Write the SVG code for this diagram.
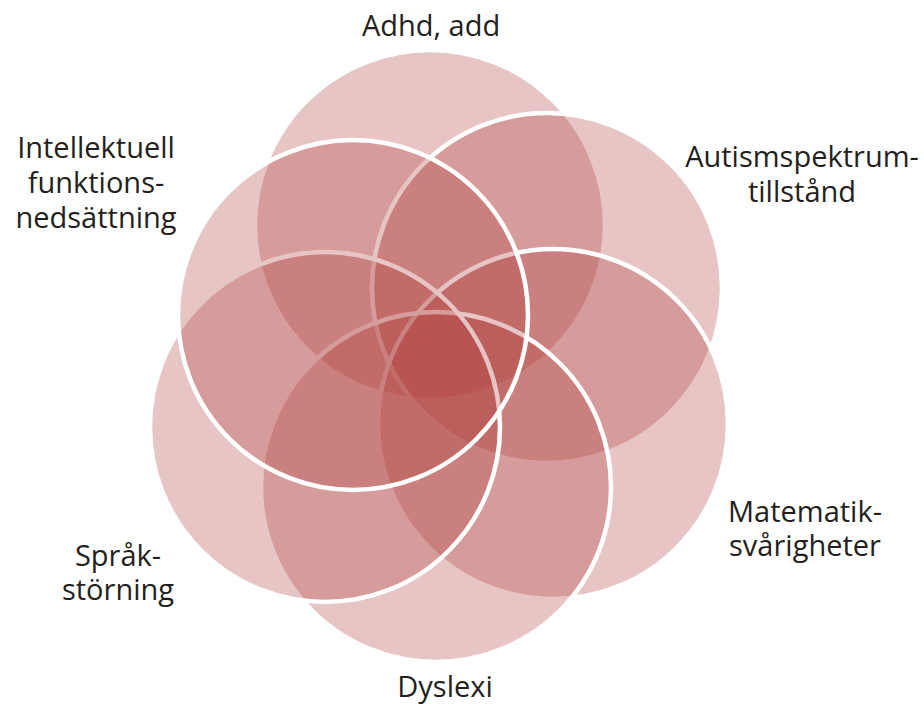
<svg xmlns="http://www.w3.org/2000/svg" width="924" height="704" viewBox="0 0 924 704">
  <style>
    .c { fill: #AE3F3A; fill-opacity: 0.3; stroke: #FFFFFF; stroke-width: 4.5; }
    .t { font-family: "Open Sans", "Liberation Sans", sans-serif; font-size: 29px; fill: #231F20; text-anchor: middle; }
  </style>
  <rect width="924" height="704" fill="#FFFFFF"/>
  <g id="adhd">
    <circle class="c" cx="430" cy="225" r="175"/>
    <text class="t" x="431" y="36">Adhd, add</text>
  </g>
  <g id="autism">
    <circle class="c" cx="547" cy="288" r="175"/>
    <text class="t" x="802" y="167">Autismspektrum-</text>
    <text class="t" x="802" y="202">tillstånd</text>
  </g>
  <g id="matematik">
    <circle class="c" cx="553" cy="424" r="175"/>
    <text class="t" x="805" y="522">Matematik-</text>
    <text class="t" x="805" y="556">svårigheter</text>
  </g>
  <g id="dyslexi">
    <circle class="c" cx="436" cy="487" r="175"/>
    <text class="t" x="445" y="697">Dyslexi</text>
  </g>
  <g id="sprak">
    <circle class="c" cx="325" cy="427" r="175"/>
    <text class="t" x="118" y="566">Språk-</text>
    <text class="t" x="118" y="600">störning</text>
  </g>
  <g id="intellektuell">
    <circle class="c" cx="353" cy="315" r="175"/>
    <text class="t" x="96" y="158">Intellektuell</text>
    <text class="t" x="96" y="193">funktions-</text>
    <text class="t" x="96" y="228">nedsättning</text>
  </g>
</svg>
